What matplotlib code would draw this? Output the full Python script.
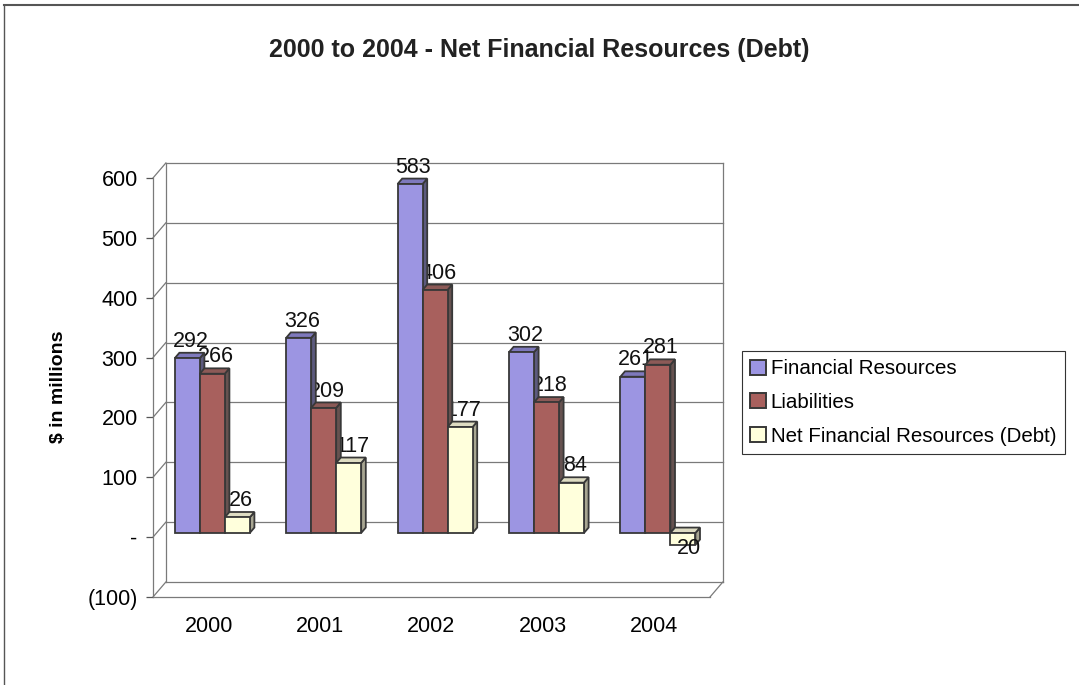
import matplotlib.pyplot as plt
from matplotlib.patches import Polygon, Patch
from matplotlib.lines import Line2D
from matplotlib.ticker import FuncFormatter

plt.rcParams['font.family'] = ['Liberation Sans', 'DejaVu Sans']

years = ['2000', '2001', '2002', '2003', '2004']
series_names = ['Financial Resources', 'Liabilities', 'Net Financial Resources (Debt)']
financial_resources = [292, 326, 583, 302, 261]
liabilities = [266, 209, 406, 218, 281]
net_resources = [26, 117, 177, 84, -20]
y_ticks = [-100, 0, 100, 200, 300, 400, 500, 600]

# front colour, top face, side face
face_colors = ['#9C95E2', '#A8605D', '#FFFFDC']
top_colors = ['#7E79BC', '#8C5A57', '#DEDCC2']
side_colors = ['#5C5A7E', '#665250', '#A8A692']
edge = '#383838'


def fmt(v, pos=None):
    if v == 0:
        return '-'
    if v < 0:
        return '({:,.0f})'.format(-v)
    return '{:,.0f}'.format(v)


fig = plt.figure(figsize=(10.79, 6.85), dpi=100)
W, H = 1079, 685
ax = fig.add_axes([153 / W, 1 - 597 / H, (720 - 153) / W, (597 - 162) / H])
ax.set_xlim(-0.5, -0.5 + 567 / 111.4)
ax.set_ylim(-100, -100 + 435 / 0.5986)

# depth of the box (category units, value units)
dx, dy = 0.115, 25.0
grid = '#7a7a7a'

# back wall and floor
for v in y_ticks:
    ax.plot([-0.5 + dx, 4.5 + dx], [v + dy, v + dy], color=grid, lw=0.9, zorder=1, clip_on=False)
    ax.plot([-0.5, -0.5 + dx], [v, v + dy], color=grid, lw=0.9, zorder=1, clip_on=False)
for xv in (-0.5 + dx, 4.5 + dx):
    ax.plot([xv, xv], [-100 + dy, 600 + dy], color=grid, lw=0.9, zorder=1, clip_on=False)
ax.plot([-0.5, 4.5], [-100, -100], color=grid, lw=0.9, zorder=1, clip_on=False)
ax.plot([4.5, 4.5 + dx], [-100, -100 + dy], color=grid, lw=0.9, zorder=1, clip_on=False)

# 3-D bars
w = 0.2244
d0, d1 = 0.28, 0.64
all_values = [financial_resources, liabilities, net_resources]
for i in range(len(years)):
    for j, vals in enumerate(all_values):
        v = vals[i]
        x0 = i - 1.5 * w + j * w + d0 * dx
        x1 = x0 + w
        b0 = d0 * dy
        lo, hi = min(0, v) + b0, max(0, v) + b0
        ox, oy = (d1 - d0) * dx, (d1 - d0) * dy
        z = 3 + j
        front = Polygon([(x0, lo), (x1, lo), (x1, hi), (x0, hi)],
                        facecolor=face_colors[j], edgecolor=edge, lw=1.3, zorder=z)
        top = Polygon([(x0, hi), (x1, hi), (x1 + ox, hi + oy), (x0 + ox, hi + oy)],
                      facecolor=top_colors[j], edgecolor=edge, lw=1.3, zorder=z)
        side = Polygon([(x1, lo), (x1 + ox, lo + oy), (x1 + ox, hi + oy), (x1, hi)],
                       facecolor=side_colors[j], edgecolor=edge, lw=1.3, zorder=z)
        for p in (side, top, front):
            ax.add_patch(p)
        # value labels sit behind the bars, negatives hang below in front
        cx = (x0 + x1) / 2 + 0.03
        if v >= 0:
            ax.text(cx, v + b0 + 28, fmt(v), ha='center', va='center', fontsize=15.5,
                    color='#111111', zorder=2)
        else:
            ax.text(cx + 0.02, v + b0 - 6, fmt(v).strip('()'), ha='center', va='center',
                    fontsize=15.5, color='#111111', zorder=10)

# axes: left value axis at the front, categories below the floor
for s in ('top', 'right', 'bottom'):
    ax.spines[s].set_visible(False)
ax.spines['left'].set_bounds(-100, 600)
ax.spines['left'].set_color(grid)
ax.spines['left'].set_linewidth(0.9)
ax.set_yticks(y_ticks)
ax.yaxis.set_major_formatter(FuncFormatter(fmt))
ax.tick_params(axis='y', length=5, width=0.9, color='#555555', labelsize=15.5, pad=6)
ax.set_xticks(range(len(years)))
ax.set_xticklabels(years)
ax.tick_params(axis='x', length=0, labelsize=15.5, pad=14)
ax.set_ylabel('$ in millions', fontsize=14, fontweight='bold')
ax.yaxis.set_label_coords(-86 / 567, (597 - 387) / 435)

fig.text(539 / W, 1 - 50 / H, '2000 to 2004 - Net Financial Resources (Debt)',
         ha='center', va='center', fontsize=18, fontweight='bold', color='#222222')

handles = [Patch(facecolor=face_colors[k], edgecolor=edge, lw=1.4) for k in range(3)]
leg = fig.legend(handles, series_names, loc='upper left',
                 bbox_to_anchor=(742 / W, 1 - 351 / H), fontsize=14.8,
                 fancybox=False, edgecolor='#333333', framealpha=1,
                 handlelength=0.75, handleheight=0.75, handletextpad=0.25,
                 labelspacing=0.72, borderpad=0.4, borderaxespad=0)
leg.get_frame().set_linewidth(0.8)

# scanned page border
fig.add_artist(Line2D([4 / W, 1], [1 - 5 / H, 1 - 5 / H], color='#555555', lw=1.5))
fig.add_artist(Line2D([4 / W, 4 / W], [0, 1 - 5 / H], color='#555555', lw=1.0))

fig.savefig('out.png', dpi=100)
